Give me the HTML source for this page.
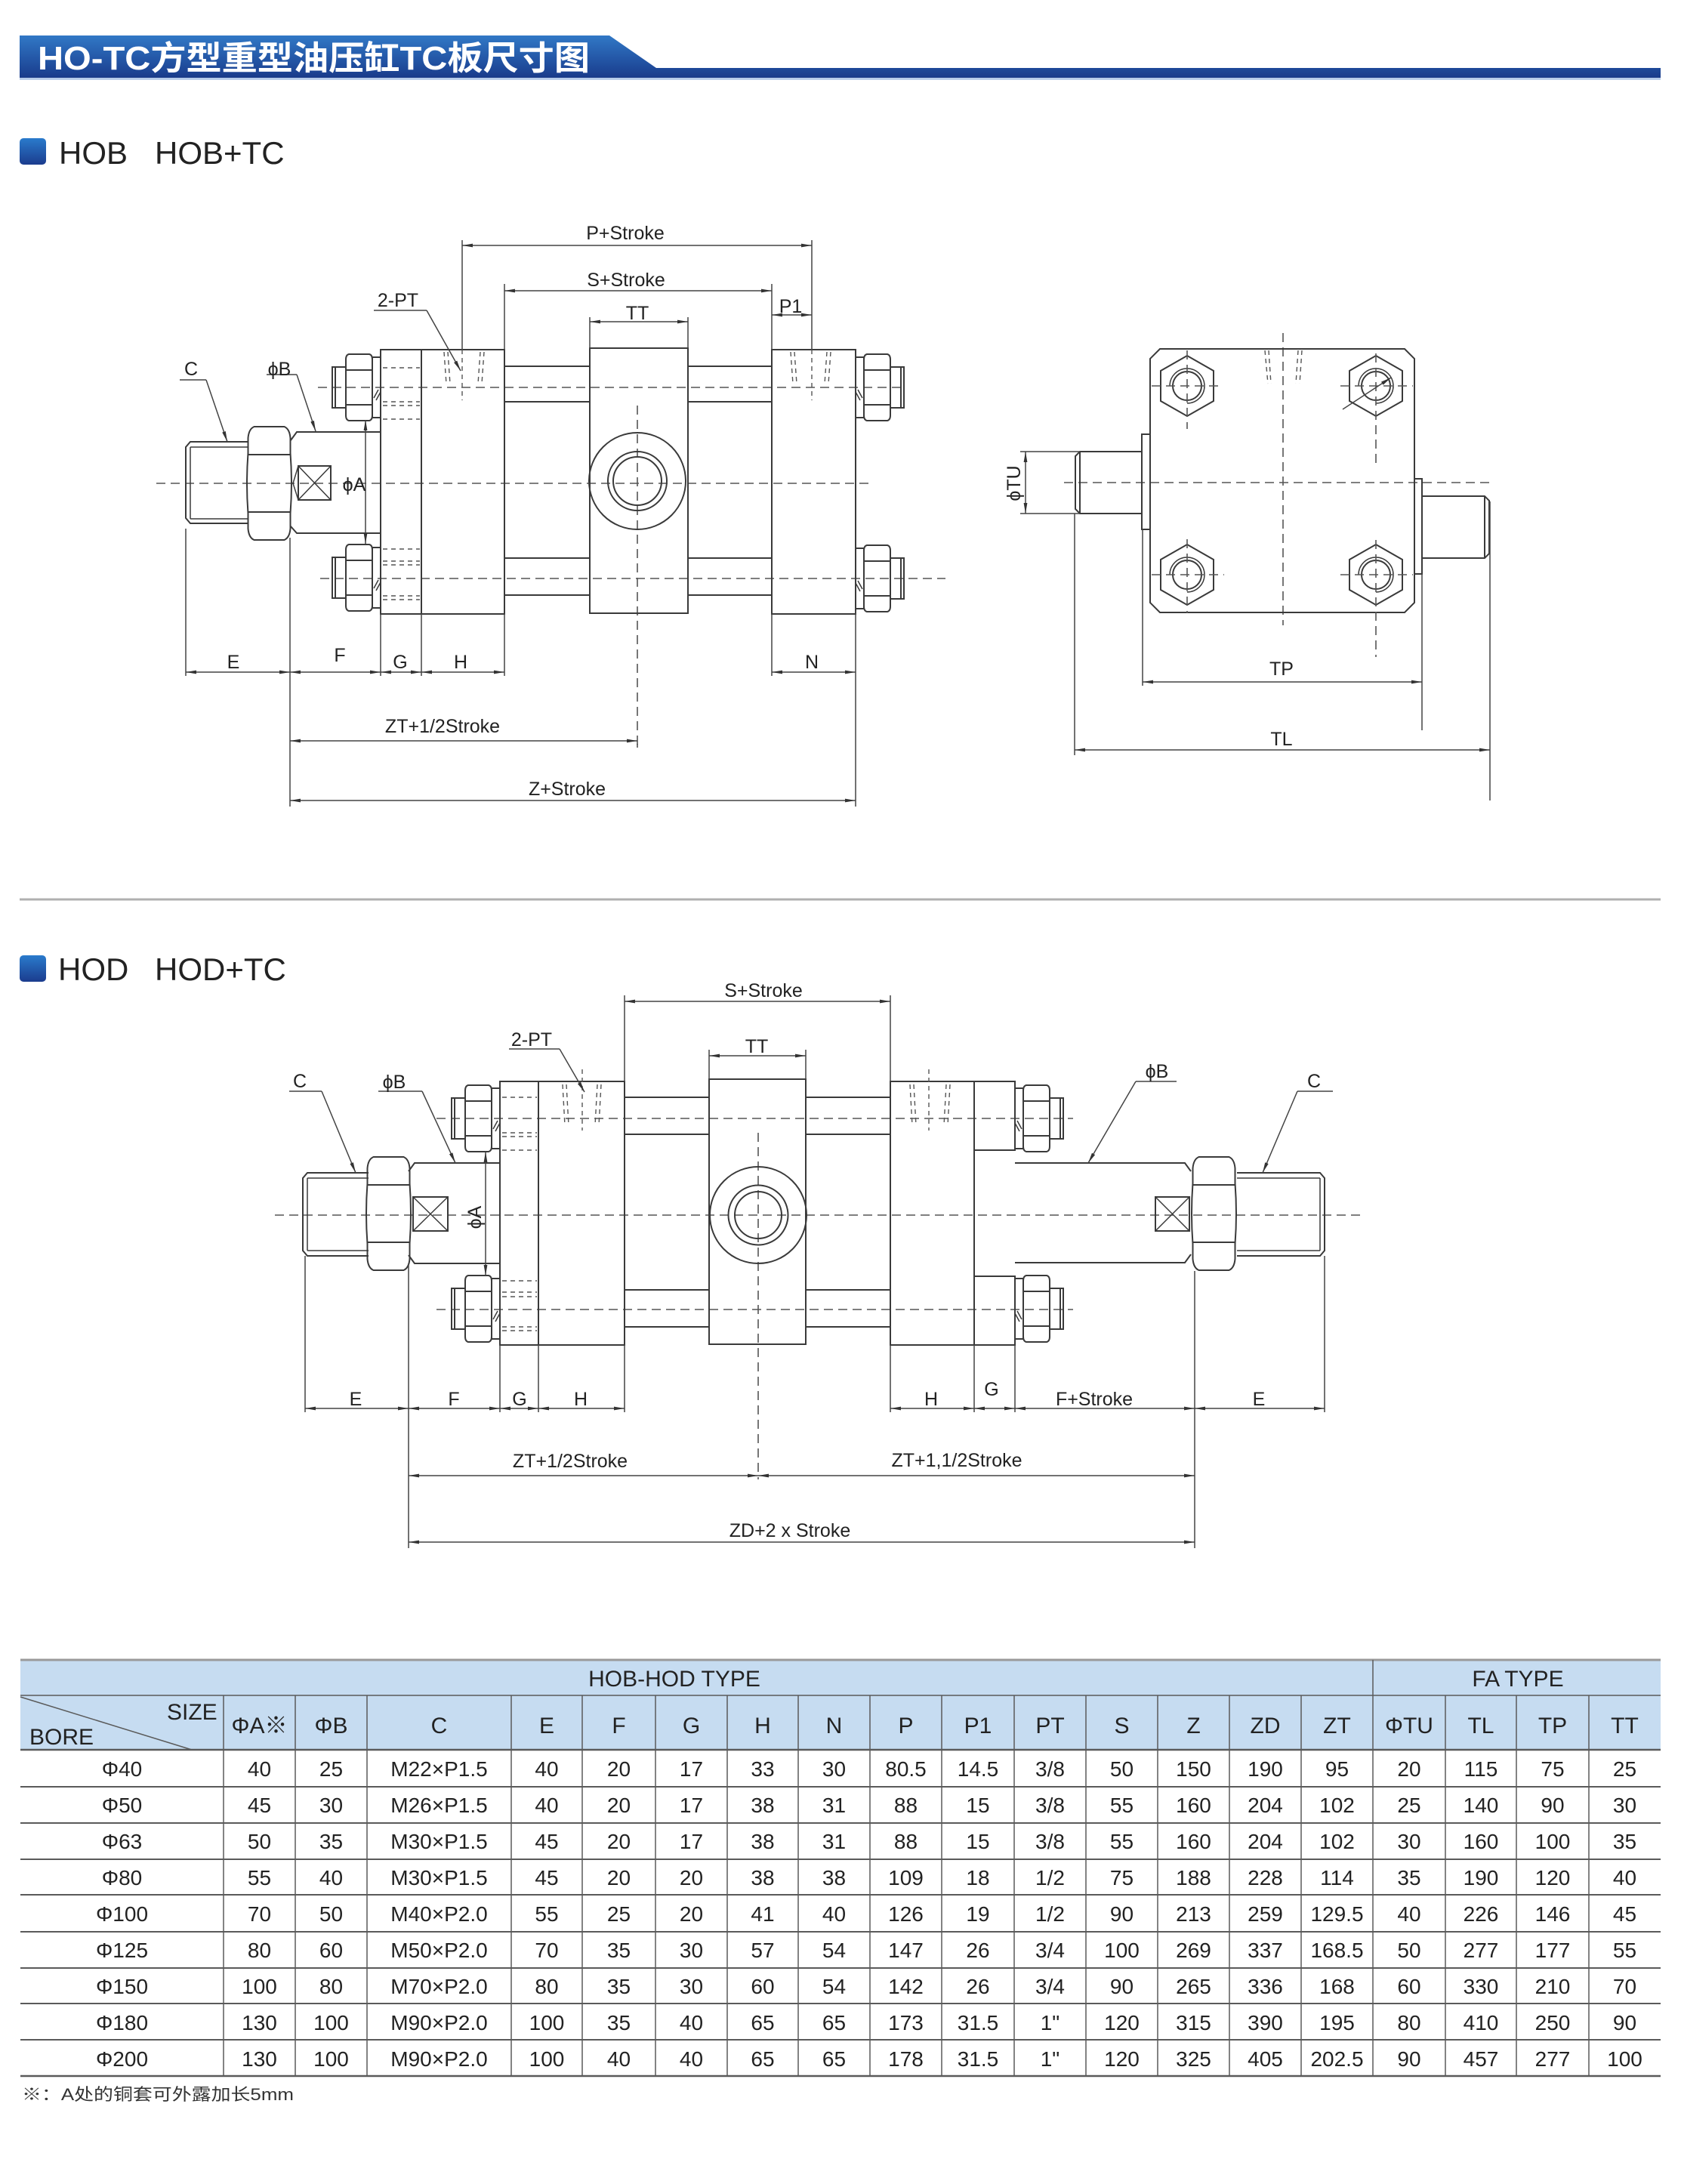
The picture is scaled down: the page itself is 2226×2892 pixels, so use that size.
<!DOCTYPE html>
<html><head><meta charset="utf-8"><style>
html,body{margin:0;padding:0;background:#fff;}
svg{display:block;}
text{font-family:"Liberation Sans","Noto Sans CJK SC",sans-serif;}
.l{stroke:#3a3a3a;stroke-width:2;fill:none;}
.th{stroke:#3a3a3a;stroke-width:1.5;fill:none;}
.d{stroke:#555;stroke-width:1.6;stroke-dasharray:12 7;fill:none;}
.ds{stroke:#555;stroke-width:1.4;stroke-dasharray:6 5;fill:none;}
.m{stroke:#444;stroke-width:1.5;fill:none;marker-start:url(#ar);marker-end:url(#ar);}
.me{stroke:#444;stroke-width:1.5;fill:none;marker-end:url(#ar);}
.e{stroke:#444;stroke-width:1.5;fill:none;}
.t{font-size:25px;fill:#222;text-anchor:middle;}
.tb{font-size:28px;fill:#222;text-anchor:middle;}
.th2{font-size:30px;fill:#222;text-anchor:middle;}
.tl{stroke:#5a5a5a;stroke-width:1.5;}
</style></head><body>
<svg width="2226" height="2892" viewBox="0 0 2226 2892" xmlns="http://www.w3.org/2000/svg">
<defs>
<linearGradient id="tg" x1="0" y1="0" x2="0" y2="1"><stop offset="0" stop-color="#3178c6"/><stop offset="0.75" stop-color="#1f4b9b"/><stop offset="1" stop-color="#1a3a8a"/></linearGradient>
<linearGradient id="mg" x1="0" y1="0" x2="0" y2="1"><stop offset="0" stop-color="#2a7bcc"/><stop offset="1" stop-color="#1b3c8e"/></linearGradient>
<marker id="ar" viewBox="0 0 14 6" refX="14" refY="3" markerWidth="14" markerHeight="6" orient="auto-start-reverse" markerUnits="userSpaceOnUse"><path d="M0,0.6 L14,3 L0,5.4 Z" fill="#333"/></marker>
<g id="tn" class="l">
<rect x="-11" y="-40" width="11" height="80"/>
<path d="M-42,-44 H-15 Q-11,-43 -11,-37 V37 Q-11,43 -15,44 H-42 Q-46,43 -46,37 V-37 Q-46,-43 -42,-44 Z"/>
<path d="M-46,-23 H-11 M-46,23 H-11"/>
<rect x="-64" y="-27" width="18" height="54"/>
<path d="M-60,-27 V27"/>
<path class="th" d="M-9,14 L-3,3 M-6,17 L0,6"/>
</g>
<g id="rn" class="l">
<path d="M-20,-75 H20 Q27,-72 28,-60 L28,-40 Q31,0 28,40 L28,60 Q27,72 20,75 H-20 Q-27,72 -28,60 L-28,40 Q-31,0 -28,-40 L-28,-60 Q-27,-72 -20,-75 Z"/>
<path d="M-29,-38 H29 M-29,38 H29"/>
</g>
<g id="hx" class="l">
<polygon points="0,-40 35,-20 35,20 0,40 -35,20 -35,-20"/>
<circle r="19"/>
<path class="th" d="M-23,0 A23,23 0 1 1 0,23"/>
</g>
</defs>

<!-- Title bar -->
<polygon points="26,47 807,47 869,90 2199,90 2199,103 26,103" fill="url(#tg)"/>
<line x1="26" y1="104.5" x2="2199" y2="104.5" stroke="#9cb9e2" stroke-width="2"/>
<text x="50" y="92" font-size="44" font-weight="bold" fill="#fff" textLength="731" lengthAdjust="spacingAndGlyphs">HO-TC方型重型油压缸TC板尺寸图</text>

<!-- HOB heading -->
<rect x="26" y="183" width="35" height="35" rx="5" fill="url(#mg)"/>
<text x="78" y="217" font-size="42" fill="#222">HOB</text>
<text x="205" y="217" font-size="42" fill="#222">HOB+TC</text>

<!-- ========== HOB FRONT VIEW ========== -->
<!-- centerlines -->
<path class="d" d="M207,640 H1150 M421,513 H1196 M424,766 H1252 M844,537 V990"/>
<!-- heads -->
<rect class="l" x="504" y="463" width="164" height="350"/>
<path class="l" d="M558,463 V813"/>
<rect class="l" x="1022" y="463" width="111" height="350"/>
<!-- TT block -->
<rect class="l" x="781" y="461" width="130" height="351"/>
<!-- tube/tie lines -->
<path class="l" d="M668,485 H781 M668,532 H781 M668,739 H781 M668,788 H781 M911,485 H1022 M911,532 H1022 M911,739 H1022 M911,788 H1022"/>
<!-- trunnion circle -->
<circle class="l" cx="844" cy="637" r="64"/>
<circle class="l" cx="844" cy="637" r="39"/>
<circle class="l" cx="844" cy="637" r="32"/>
<!-- hidden lines G block -->
<path class="ds" d="M507,487 H556 M507,532 H556 M507,537 H556 M507,555 H556 M507,727 H556 M507,743 H556 M507,748 H556 M507,789 H556 M507,794 H556"/>
<!-- port hidden -->
<path class="ds" d="M588,466 L591,508 M593,466 L596,508 M641,466 L638,508 M636,466 L633,508 M1047,466 L1050,508 M1052,466 L1055,508 M1100,466 L1097,508 M1095,466 L1092,508"/>
<path class="ds" d="M612,463 V530 M1075,463 V530"/>
<!-- tie nuts -->
<use href="#tn" transform="translate(504,513)"/>
<use href="#tn" transform="translate(504,765)"/>
<use href="#tn" transform="translate(1133,513) scale(-1,1)"/>
<use href="#tn" transform="translate(1133,766) scale(-1,1)"/>
<!-- rod -->
<path class="l" d="M504,572 H393 L385,583 M504,706 H393 L385,697"/>
<rect class="l" x="395" y="617" width="43" height="45"/>
<path class="th" d="M395,617 L438,662 M438,617 L395,662 M395,617 L388,640 L395,662"/>
<!-- rod nut -->
<use href="#rn" transform="translate(356.5,640)"/>
<!-- thread -->
<path class="l" d="M328,585 H252 L246,592 V686 L252,693 H328"/>
<path class="th" d="M252,592 H328 M252,687 H328 M252,592 V687"/>
<!-- phiA -->
<path class="m" d="M484,556 V720"/>
<text class="t" x="469" y="650">ϕA</text>
<!-- leaders -->
<path class="e" d="M238,503 H273"/><path class="me" d="M273,503 L301,585"/>
<text class="t" x="253" y="497">C</text>
<path class="e" d="M353,496 H393"/><path class="me" d="M393,496 L418,571"/>
<text class="t" x="370" y="497">ϕB</text>
<path class="e" d="M495,411 H565"/><path class="me" d="M565,411 L610,491"/>
<text class="t" x="527" y="406">2-PT</text>
<!-- top dims -->
<path class="e" d="M612,318 V463 M1075,318 V463 M668,376 V463 M1022,376 V463 M781,420 V461 M911,420 V461"/>
<path class="m" d="M612,325 H1075"/>
<text class="t" x="828" y="317">P+Stroke</text>
<path class="m" d="M668,385 H1022"/>
<text class="t" x="829" y="379">S+Stroke</text>
<path class="m" d="M1022,417 H1075"/>
<text class="t" x="1047" y="414">P1</text>
<path class="m" d="M781,426 H911"/>
<text class="t" x="844" y="423">TT</text>
<!-- bottom dims -->
<path class="e" d="M246,700 V895 M384,712 V1068 M504,813 V895 M558,813 V895 M668,813 V895 M1022,813 V895 M1133,809 V1068 M844,990 V985"/>
<path class="m" d="M246,890 H384"/><path class="m" d="M384,890 H504"/><path class="m" d="M504,890 H558"/><path class="m" d="M558,890 H668"/><path class="m" d="M1022,890 H1133"/>
<text class="t" x="309" y="885">E</text>
<text class="t" x="450" y="876">F</text>
<text class="t" x="530" y="885">G</text>
<text class="t" x="610" y="885">H</text>
<text class="t" x="1075" y="885">N</text>
<path class="m" d="M384,981 H844"/>
<text class="t" x="586" y="970">ZT+1/2Stroke</text>
<path class="m" d="M384,1060 H1133"/>
<text class="t" x="751" y="1053">Z+Stroke</text>

<!-- ========== SIDE VIEW ========== -->
<path class="d" d="M1699,441 V828 M1409,639 H1979"/>
<path class="l" d="M1536,462 H1860 L1873,475 V798 L1860,811 H1536 L1523,798 V475 Z"/>
<use href="#hx" transform="translate(1572,511)"/>
<use href="#hx" transform="translate(1822,511)"/>
<use href="#hx" transform="translate(1572,761)"/>
<use href="#hx" transform="translate(1822,761)"/>
<path class="d" d="M1525,511 H1620 M1572,464 V568 M1775,511 H1871 M1822,468 V618 M1525,761 H1621 M1572,714 V812 M1775,761 H1871 M1822,715 V870"/>
<path class="ds" d="M1675,464 L1679,508 M1680,464 L1683,508 M1719,464 L1716,508 M1724,464 L1721,508"/>
<path class="me" d="M1778,542 L1842,500"/>
<!-- pins -->
<rect class="l" x="1512" y="575" width="11" height="126"/>
<path class="l" d="M1512,598 H1430 L1424,604 V674 L1430,680 H1512 M1430,598 V680"/>
<rect class="l" x="1873" y="634" width="10" height="126"/>
<path class="l" d="M1883,657 H1966 L1972,663 V733 L1966,739 H1883 M1966,657 V739"/>
<!-- TU -->
<path class="e" d="M1351,598 H1430 M1351,680 H1430"/>
<path class="m" d="M1358,598 V680"/>
<text class="t" x="1343" y="648" transform="rotate(-90 1343 640)">ϕTU</text>
<!-- TP TL -->
<path class="e" d="M1513,701 V908 M1883,760 V967 M1423,680 V1000 M1973,664 V1060"/>
<path class="m" d="M1513,903 H1883"/>
<text class="t" x="1697" y="894">TP</text>
<path class="m" d="M1423,993 H1973"/>
<text class="t" x="1697" y="987">TL</text>

<!-- separator -->
<line x1="26" y1="1191" x2="2199" y2="1191" stroke="#b0b0b0" stroke-width="3"/>

<!-- HOD heading -->
<rect x="26" y="1265" width="35" height="35" rx="5" fill="url(#mg)"/>
<text x="77" y="1298" font-size="42" fill="#222">HOD</text>
<text x="205" y="1298" font-size="42" fill="#222">HOD+TC</text>

<!-- ========== HOD FRONT VIEW ========== -->
<path class="d" d="M364,1609 H1802 M578,1481 H1421 M578,1734 H1421 M1004,1500 V1959"/>
<!-- left heads -->
<rect class="l" x="662" y="1432" width="165" height="349"/>
<path class="l" d="M713,1432 V1781"/>
<!-- TT block -->
<rect class="l" x="939" y="1429" width="128" height="351"/>
<!-- right heads -->
<rect class="l" x="1179" y="1432" width="111" height="349"/>
<path class="l" d="M1290,1432 H1344 V1523 H1290 M1290,1781 H1344 V1690 H1290"/>
<!-- tube lines -->
<path class="l" d="M827,1453 H939 M827,1502 H939 M827,1708 H939 M827,1757 H939 M1067,1453 H1179 M1067,1502 H1179 M1067,1708 H1179 M1067,1757 H1179"/>
<!-- trunnion -->
<circle class="l" cx="1004" cy="1609" r="64"/>
<circle class="l" cx="1004" cy="1609" r="39.5"/>
<circle class="l" cx="1004" cy="1609" r="31"/>
<!-- hidden G -->
<path class="ds" d="M665,1453 H711 M665,1500 H711 M665,1505 H711 M665,1523 H711 M665,1696 H711 M665,1711 H711 M665,1717 H711 M665,1757 H711 M665,1762 H711"/>
<path class="ds" d="M745,1436 L748,1490 M750,1436 L753,1490 M796,1436 L793,1490 M791,1436 L788,1490 M1205,1436 L1208,1490 M1210,1436 L1213,1490 M1258,1436 L1255,1490 M1253,1436 L1250,1490 M771,1416 V1497 M1230,1416 V1497"/>
<!-- tie nuts -->
<use href="#tn" transform="translate(662,1481)"/>
<use href="#tn" transform="translate(662,1733)"/>
<use href="#tn" transform="translate(1344,1481) scale(-1,1)"/>
<use href="#tn" transform="translate(1344,1733) scale(-1,1)"/>
<!-- left rod -->
<path class="l" d="M662,1540 H549 L541,1551 M662,1673 H549 L541,1662"/>
<rect class="l" x="547" y="1585" width="46" height="45"/>
<path class="th" d="M547,1585 L593,1630 M593,1585 L547,1630"/>
<use href="#rn" transform="translate(514.5,1607)"/>
<path class="l" d="M488,1553 H407 L401,1560 V1656 L407,1663 H488"/>
<path class="th" d="M407,1560 H488 M407,1656 H488 M407,1560 V1656"/>
<!-- right rod -->
<path class="l" d="M1344,1540 H1569 L1577,1551 M1344,1672 H1569 L1577,1661"/>
<rect class="l" x="1530" y="1585" width="45" height="45"/>
<path class="th" d="M1530,1585 L1575,1630 M1575,1585 L1530,1630"/>
<use href="#rn" transform="translate(1607.5,1607)"/>
<path class="l" d="M1638,1553 H1748 L1754,1560 V1656 L1748,1663 H1638"/>
<path class="th" d="M1638,1560 H1748 M1638,1656 H1748 M1748,1560 V1656"/>
<!-- phiA -->
<path class="m" d="M643,1525 V1689"/>
<text class="t" x="629" y="1620" transform="rotate(-90 629 1612)">ϕA</text>
<!-- leaders -->
<path class="e" d="M383,1445 H426"/><path class="me" d="M426,1445 L471,1553"/>
<text class="t" x="397" y="1440">C</text>
<path class="e" d="M501,1445 H559"/><path class="me" d="M559,1445 L603,1540"/>
<text class="t" x="522" y="1441">ϕB</text>
<path class="e" d="M1504,1432 H1558"/><path class="me" d="M1504,1432 L1441,1540"/>
<text class="t" x="1532" y="1427">ϕB</text>
<path class="e" d="M1718,1445 H1765"/><path class="me" d="M1718,1445 L1672,1553"/>
<text class="t" x="1740" y="1440">C</text>
<path class="e" d="M674,1389 H741"/><path class="me" d="M741,1389 L774,1446"/>
<text class="t" x="704" y="1385">2-PT</text>
<!-- top dims -->
<path class="e" d="M827,1318 V1432 M1179,1318 V1432 M939,1390 V1429 M1067,1390 V1429"/>
<path class="m" d="M827,1326 H1179"/>
<text class="t" x="1011" y="1320">S+Stroke</text>
<path class="m" d="M939,1398 H1067"/>
<text class="t" x="1002" y="1394">TT</text>
<!-- bottom dims -->
<path class="e" d="M404,1663 V1870 M541,1673 V2050 M662,1781 V1870 M713,1781 V1870 M827,1781 V1870 M1179,1781 V1870 M1290,1781 V1870 M1344,1781 V1870 M1582,1683 V2050 M1754,1663 V1870"/>
<path class="m" d="M404,1865 H541"/><path class="m" d="M541,1865 H662"/><path class="m" d="M662,1865 H713"/><path class="m" d="M713,1865 H827"/>
<path class="m" d="M1179,1865 H1290"/><path class="m" d="M1290,1865 H1344"/><path class="m" d="M1344,1865 H1582"/><path class="m" d="M1582,1865 H1754"/>
<text class="t" x="471" y="1861">E</text>
<text class="t" x="601" y="1861">F</text>
<text class="t" x="688" y="1861">G</text>
<text class="t" x="769" y="1861">H</text>
<text class="t" x="1233" y="1861">H</text>
<text class="t" x="1313" y="1848">G</text>
<text class="t" x="1449" y="1861">F+Stroke</text>
<text class="t" x="1667" y="1861">E</text>
<path class="m" d="M541,1954 H1004"/><path class="m" d="M1004,1954 H1582"/>
<text class="t" x="755" y="1943">ZT+1/2Stroke</text>
<text class="t" x="1267" y="1942">ZT+1,1/2Stroke</text>
<path class="m" d="M541,2042 H1582"/>
<text class="t" x="1046" y="2035">ZD+2 x Stroke</text>

<!-- ========== TABLE ========== -->
<rect x="27" y="2198" width="2172" height="119" fill="#c6dcf1"/>
<line x1="27" y1="2198" x2="2199" y2="2198" stroke="#9a9a9a" stroke-width="3"/>
<g class="tl">
<line x1="27" y1="2245" x2="2199" y2="2245"/>
<line x1="27" y1="2317" x2="2199" y2="2317" stroke-width="2.5"/>
<line x1="27" y1="2366" x2="2199" y2="2366" stroke-width="2"/>
<line x1="27" y1="2414" x2="2199" y2="2414" stroke-width="2"/>
<line x1="27" y1="2462" x2="2199" y2="2462" stroke-width="2"/>
<line x1="27" y1="2509" x2="2199" y2="2509" stroke-width="2"/>
<line x1="27" y1="2558" x2="2199" y2="2558" stroke-width="2"/>
<line x1="27" y1="2606" x2="2199" y2="2606" stroke-width="2"/>
<line x1="27" y1="2653" x2="2199" y2="2653" stroke-width="2"/>
<line x1="27" y1="2701" x2="2199" y2="2701" stroke-width="2"/>
<line x1="27" y1="2749" x2="2199" y2="2749" stroke-width="2.5"/>
<line x1="1818" y1="2198" x2="1818" y2="2749"/>
<path d="M296,2245V2749 M391,2245V2749 M486,2245V2749 M677,2245V2749 M771,2245V2749 M868,2245V2749 M963,2245V2749 M1057,2245V2749 M1152,2245V2749 M1247,2245V2749 M1343,2245V2749 M1438,2245V2749 M1533,2245V2749 M1628,2245V2749 M1723,2245V2749 M1914,2245V2749 M2008,2245V2749 M2104,2245V2749"/>
<line x1="27" y1="2247" x2="254" y2="2317"/>
</g>
<text class="th2" x="893" y="2233" font-size="29">HOB-HOD TYPE</text>
<text class="th2" x="2010" y="2233" font-size="29">FA TYPE</text>
<text x="221" y="2277" font-size="30" fill="#222">SIZE</text>
<text x="39" y="2310" font-size="30" fill="#222">BORE</text>
<text class="th2" y="2295"><tspan x="343.5">ΦA※</tspan><tspan x="438.5">ΦB</tspan><tspan x="581.5">C</tspan><tspan x="724">E</tspan><tspan x="819.5">F</tspan><tspan x="915.5">G</tspan><tspan x="1010">H</tspan><tspan x="1104.5">N</tspan><tspan x="1199.5">P</tspan><tspan x="1295">P1</tspan><tspan x="1390.5">PT</tspan><tspan x="1485.5">S</tspan><tspan x="1580.5">Z</tspan><tspan x="1675.5">ZD</tspan><tspan x="1770.5">ZT</tspan><tspan x="1866">ΦTU</tspan><tspan x="1961">TL</tspan><tspan x="2056">TP</tspan><tspan x="2151.5">TT</tspan></text>

<text class="tb" y="2352"><tspan x="161.5">Φ40</tspan><tspan x="343.5">40</tspan><tspan x="438.5">25</tspan><tspan x="581.5">M22×P1.5</tspan><tspan x="724">40</tspan><tspan x="819.5">20</tspan><tspan x="915.5">17</tspan><tspan x="1010">33</tspan><tspan x="1104.5">30</tspan><tspan x="1199.5">80.5</tspan><tspan x="1295">14.5</tspan><tspan x="1390.5">3/8</tspan><tspan x="1485.5">50</tspan><tspan x="1580.5">150</tspan><tspan x="1675.5">190</tspan><tspan x="1770.5">95</tspan><tspan x="1866">20</tspan><tspan x="1961">115</tspan><tspan x="2056">75</tspan><tspan x="2151.5">25</tspan></text>
<text class="tb" y="2400"><tspan x="161.5">Φ50</tspan><tspan x="343.5">45</tspan><tspan x="438.5">30</tspan><tspan x="581.5">M26×P1.5</tspan><tspan x="724">40</tspan><tspan x="819.5">20</tspan><tspan x="915.5">17</tspan><tspan x="1010">38</tspan><tspan x="1104.5">31</tspan><tspan x="1199.5">88</tspan><tspan x="1295">15</tspan><tspan x="1390.5">3/8</tspan><tspan x="1485.5">55</tspan><tspan x="1580.5">160</tspan><tspan x="1675.5">204</tspan><tspan x="1770.5">102</tspan><tspan x="1866">25</tspan><tspan x="1961">140</tspan><tspan x="2056">90</tspan><tspan x="2151.5">30</tspan></text>
<text class="tb" y="2448"><tspan x="161.5">Φ63</tspan><tspan x="343.5">50</tspan><tspan x="438.5">35</tspan><tspan x="581.5">M30×P1.5</tspan><tspan x="724">45</tspan><tspan x="819.5">20</tspan><tspan x="915.5">17</tspan><tspan x="1010">38</tspan><tspan x="1104.5">31</tspan><tspan x="1199.5">88</tspan><tspan x="1295">15</tspan><tspan x="1390.5">3/8</tspan><tspan x="1485.5">55</tspan><tspan x="1580.5">160</tspan><tspan x="1675.5">204</tspan><tspan x="1770.5">102</tspan><tspan x="1866">30</tspan><tspan x="1961">160</tspan><tspan x="2056">100</tspan><tspan x="2151.5">35</tspan></text>
<text class="tb" y="2496"><tspan x="161.5">Φ80</tspan><tspan x="343.5">55</tspan><tspan x="438.5">40</tspan><tspan x="581.5">M30×P1.5</tspan><tspan x="724">45</tspan><tspan x="819.5">20</tspan><tspan x="915.5">20</tspan><tspan x="1010">38</tspan><tspan x="1104.5">38</tspan><tspan x="1199.5">109</tspan><tspan x="1295">18</tspan><tspan x="1390.5">1/2</tspan><tspan x="1485.5">75</tspan><tspan x="1580.5">188</tspan><tspan x="1675.5">228</tspan><tspan x="1770.5">114</tspan><tspan x="1866">35</tspan><tspan x="1961">190</tspan><tspan x="2056">120</tspan><tspan x="2151.5">40</tspan></text>
<text class="tb" y="2544"><tspan x="161.5">Φ100</tspan><tspan x="343.5">70</tspan><tspan x="438.5">50</tspan><tspan x="581.5">M40×P2.0</tspan><tspan x="724">55</tspan><tspan x="819.5">25</tspan><tspan x="915.5">20</tspan><tspan x="1010">41</tspan><tspan x="1104.5">40</tspan><tspan x="1199.5">126</tspan><tspan x="1295">19</tspan><tspan x="1390.5">1/2</tspan><tspan x="1485.5">90</tspan><tspan x="1580.5">213</tspan><tspan x="1675.5">259</tspan><tspan x="1770.5">129.5</tspan><tspan x="1866">40</tspan><tspan x="1961">226</tspan><tspan x="2056">146</tspan><tspan x="2151.5">45</tspan></text>
<text class="tb" y="2592"><tspan x="161.5">Φ125</tspan><tspan x="343.5">80</tspan><tspan x="438.5">60</tspan><tspan x="581.5">M50×P2.0</tspan><tspan x="724">70</tspan><tspan x="819.5">35</tspan><tspan x="915.5">30</tspan><tspan x="1010">57</tspan><tspan x="1104.5">54</tspan><tspan x="1199.5">147</tspan><tspan x="1295">26</tspan><tspan x="1390.5">3/4</tspan><tspan x="1485.5">100</tspan><tspan x="1580.5">269</tspan><tspan x="1675.5">337</tspan><tspan x="1770.5">168.5</tspan><tspan x="1866">50</tspan><tspan x="1961">277</tspan><tspan x="2056">177</tspan><tspan x="2151.5">55</tspan></text>
<text class="tb" y="2640"><tspan x="161.5">Φ150</tspan><tspan x="343.5">100</tspan><tspan x="438.5">80</tspan><tspan x="581.5">M70×P2.0</tspan><tspan x="724">80</tspan><tspan x="819.5">35</tspan><tspan x="915.5">30</tspan><tspan x="1010">60</tspan><tspan x="1104.5">54</tspan><tspan x="1199.5">142</tspan><tspan x="1295">26</tspan><tspan x="1390.5">3/4</tspan><tspan x="1485.5">90</tspan><tspan x="1580.5">265</tspan><tspan x="1675.5">336</tspan><tspan x="1770.5">168</tspan><tspan x="1866">60</tspan><tspan x="1961">330</tspan><tspan x="2056">210</tspan><tspan x="2151.5">70</tspan></text>
<text class="tb" y="2688"><tspan x="161.5">Φ180</tspan><tspan x="343.5">130</tspan><tspan x="438.5">100</tspan><tspan x="581.5">M90×P2.0</tspan><tspan x="724">100</tspan><tspan x="819.5">35</tspan><tspan x="915.5">40</tspan><tspan x="1010">65</tspan><tspan x="1104.5">65</tspan><tspan x="1199.5">173</tspan><tspan x="1295">31.5</tspan><tspan x="1390.5">1"</tspan><tspan x="1485.5">120</tspan><tspan x="1580.5">315</tspan><tspan x="1675.5">390</tspan><tspan x="1770.5">195</tspan><tspan x="1866">80</tspan><tspan x="1961">410</tspan><tspan x="2056">250</tspan><tspan x="2151.5">90</tspan></text>
<text class="tb" y="2736"><tspan x="161.5">Φ200</tspan><tspan x="343.5">130</tspan><tspan x="438.5">100</tspan><tspan x="581.5">M90×P2.0</tspan><tspan x="724">100</tspan><tspan x="819.5">40</tspan><tspan x="915.5">40</tspan><tspan x="1010">65</tspan><tspan x="1104.5">65</tspan><tspan x="1199.5">178</tspan><tspan x="1295">31.5</tspan><tspan x="1390.5">1"</tspan><tspan x="1485.5">120</tspan><tspan x="1580.5">325</tspan><tspan x="1675.5">405</tspan><tspan x="1770.5">202.5</tspan><tspan x="1866">90</tspan><tspan x="1961">457</tspan><tspan x="2056">277</tspan><tspan x="2151.5">100</tspan></text>

<text x="29" y="2781" font-size="22" fill="#333" textLength="360" lengthAdjust="spacingAndGlyphs">※：A处的铜套可外露加长5mm</text>
</svg>
</body></html>
